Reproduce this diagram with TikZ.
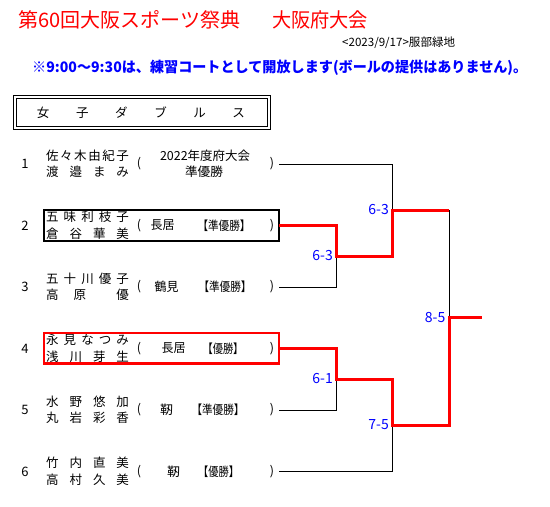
\documentclass[tikz,border=0pt]{standalone}
\usepackage{fontspec}
\setmainfont{Noto Sans CJK JP}
\usepackage{graphicx}
\newcommand{\fw}[2]{\resizebox{#1}{\height}{#2}}
\newcommand{\nm}[1]{\makebox[83pt][s]{#1}}
\definecolor{wred}{RGB}{255,0,0}
\definecolor{sblue}{RGB}{0,0,255}
\begin{document}
\begin{tikzpicture}[x=1pt,y=-1pt,
  txt/.style={inner sep=0pt, font=\fontsize{12.5}{12.5}\selectfont},
  numtxt/.style={inner sep=0pt, font=\fontsize{13}{13}\selectfont},
  lbl/.style={inner sep=0pt, anchor=east, text=sblue, font=\fontsize{14}{14}\selectfont},
  thinln/.style={line width=1pt, black},
  winln/.style={line width=3pt, wred, line join=miter},
  hbox/.style={draw, line width=1pt}]
\useasboundingbox (0,0) rectangle (550,507);
% title
\node[txt, anchor=west, text=wred, font=\fontsize{20}{20}\selectfont] (t1) at (18,20) {\fw{222pt}{第60回大阪スポーツ祭典}};
\node[txt, anchor=west, text=wred, font=\fontsize{20}{20}\selectfont] (t2) at (272,20) {\fw{96pt}{大阪府大会}};
\node[txt, anchor=west, font=\fontsize{11.5}{11.5}\selectfont] (date) at (342,43) {\fw{113pt}{<2023/9/17>服部緑地}};
\node[txt, anchor=west, text=sblue, font=\fontsize{14.5}{14.5}\selectfont\bfseries] (note) at (32,68) {\fw{495pt}{※9:00～9:30は、練習コートとして開放します(ボールの提供はありません)。}};
% header box
\node[hbox, minimum width=257pt, minimum height=34pt, anchor=north west, inner sep=0pt] (hdo) at (12.5,94.5) {};
\node[hbox, minimum width=251pt, minimum height=28pt, anchor=north west, inner sep=0pt] (hdi) at (15.5,97.5) {};
\node[txt] (hdt) at (141,112.3) {\makebox[208pt][s]{女\hfill 子\hfill ダ\hfill ブ\hfill ル\hfill ス}};
% row numbers
\node[numtxt] (no1) at (25,164) {1};
\node[numtxt] (no2) at (25,225.5) {2};
\node[numtxt] (no3) at (25,287) {3};
\node[numtxt] (no4) at (25,348.5) {4};
\node[numtxt] (no5) at (25,410) {5};
\node[numtxt] (no6) at (25,471.5) {6};
% names
\node[txt] (n1a) at (87.5,155.5) {\nm{佐\hfill 々\hfill 木\hfill 由\hfill 紀\hfill 子}};
\node[txt] (n1b) at (87.5,172) {\nm{渡\hfill 邉\hfill ま\hfill み}};
\node[txt] (n2a) at (87.5,217) {\nm{五\hfill 味\hfill 利\hfill 枝\hfill 子}};
\node[txt] (n2b) at (87.5,233.5) {\nm{倉\hfill 谷\hfill 華\hfill 美}};
\node[txt] (n3a) at (87.5,278.5) {\nm{五\hfill 十\hfill 川\hfill 優\hfill 子}};
\node[txt] (n3b) at (87.5,295) {\nm{高\hfill 原\hfill \hfill 優}};
\node[txt] (n4a) at (87.5,340) {\nm{永\hfill 見\hfill な\hfill つ\hfill み}};
\node[txt] (n4b) at (87.5,356.5) {\nm{浅\hfill 川\hfill 芽\hfill 生}};
\node[txt] (n5a) at (87.5,401.5) {\nm{水\hfill 野\hfill 悠\hfill 加}};
\node[txt] (n5b) at (87.5,418) {\nm{丸\hfill 岩\hfill 彩\hfill 香}};
\node[txt] (n6a) at (87.5,463) {\nm{竹\hfill 内\hfill 直\hfill 美}};
\node[txt] (n6b) at (87.5,479.5) {\nm{高\hfill 村\hfill 久\hfill 美}};
% parentheses
\node[txt] (o1) at (139,164) {(}; \node[txt] (c1) at (272,164) {)};
\node[txt] (o2) at (139,225.5) {(}; \node[txt] (c2) at (272,225.5) {)};
\node[txt] (o3) at (139,287) {(}; \node[txt] (c3) at (272,287) {)};
\node[txt] (o4) at (139,348.5) {(}; \node[txt] (c4) at (272,348.5) {)};
\node[txt] (o5) at (139,410) {(}; \node[txt] (c5) at (272,410) {)};
\node[txt] (o6) at (139,471.5) {(}; \node[txt] (c6) at (272,471.5) {)};
% affiliations
\node[txt] (a1a) at (205,155.5) {\fw{90pt}{2022年度府大会}};
\node[txt] (a1b) at (204,172) {\fw{38pt}{準優勝}};
\node[txt] (a2a) at (162.5,225.5) {\fw{24pt}{長居}};
\node[txt] (a2b) at (224,225.5) {\fw{53pt}{【準優勝】}};
\node[txt] (a3a) at (166.5,287) {\fw{24pt}{鶴見}};
\node[txt] (a3b) at (225,287) {\fw{53pt}{【準優勝】}};
\node[txt] (a4a) at (173.5,348.5) {\fw{24pt}{長居}};
\node[txt] (a4b) at (223,348.5) {\fw{41pt}{【優勝】}};
\node[txt] (a5a) at (166.5,410) {\fw{13pt}{靭}};
\node[txt] (a5b) at (218,410) {\fw{53pt}{【準優勝】}};
\node[txt] (a6a) at (173.5,471.5) {\fw{13pt}{靭}};
\node[txt] (a6b) at (218.5,471.5) {\fw{41pt}{【優勝】}};
% highlight boxes
\node[draw=black, line width=2.3pt, minimum width=235pt, minimum height=31pt, inner sep=0pt] (bx2) at (161.5,225.3) {};
\node[draw=wred, line width=2.7pt, minimum width=235pt, minimum height=30.5pt, inner sep=0pt] (bx4) at (161.5,348.3) {};
% bracket coordinates
\coordinate (s1) at (279,164);
\coordinate (s2) at (279,225.5);
\coordinate (s3) at (279,287);
\coordinate (s4) at (279,348.5);
\coordinate (s5) at (279,410);
\coordinate (s6) at (279,471.5);
\coordinate (r2a) at (336.7,225.5);
\coordinate (r3a) at (336.7,287);
\coordinate (m23) at (336.7,256);
\coordinate (r4a) at (336.7,348.5);
\coordinate (r5a) at (336.7,410);
\coordinate (m45) at (336.7,379);
\coordinate (r1b) at (392.7,164);
\coordinate (w23) at (392.7,256);
\coordinate (m123) at (392.7,210);
\coordinate (w45) at (392.7,379);
\coordinate (r6b) at (392.7,471.5);
\coordinate (m456) at (392.7,425);
\coordinate (f1) at (449,210);
\coordinate (f2) at (449,425);
\coordinate (fm) at (449,317.5);
\coordinate (out) at (482,317.5);
% thin lines
\draw[thinln] (s1) -- (r1b) -- (m123);
\draw[thinln] (s3) -- (r3a) -- (m23);
\draw[thinln] (s5) -- (r5a) -- (m45);
\draw[thinln] (s6) -- (r6b) -- (m456);
\draw[thinln] (f1) -- (fm);
% winner lines
\draw[winln] (s2) -- (r2a) -- (m23) -- (w23) -- (m123) -- (f1);
\draw[winln] (s4) -- (r4a) -- (m45) -- (w45) -- (m456) -- (f2) -- (fm) -- (out);
% scores
\node[lbl] (sc1) at (333,256) {6-3};
\node[lbl] (sc2) at (389,210) {6-3};
\node[lbl] (sc3) at (333,379) {6-1};
\node[lbl] (sc4) at (389,425) {7-5};
\node[lbl] (sc5) at (445.5,317.5) {8-5};
\end{tikzpicture}
\end{document}
